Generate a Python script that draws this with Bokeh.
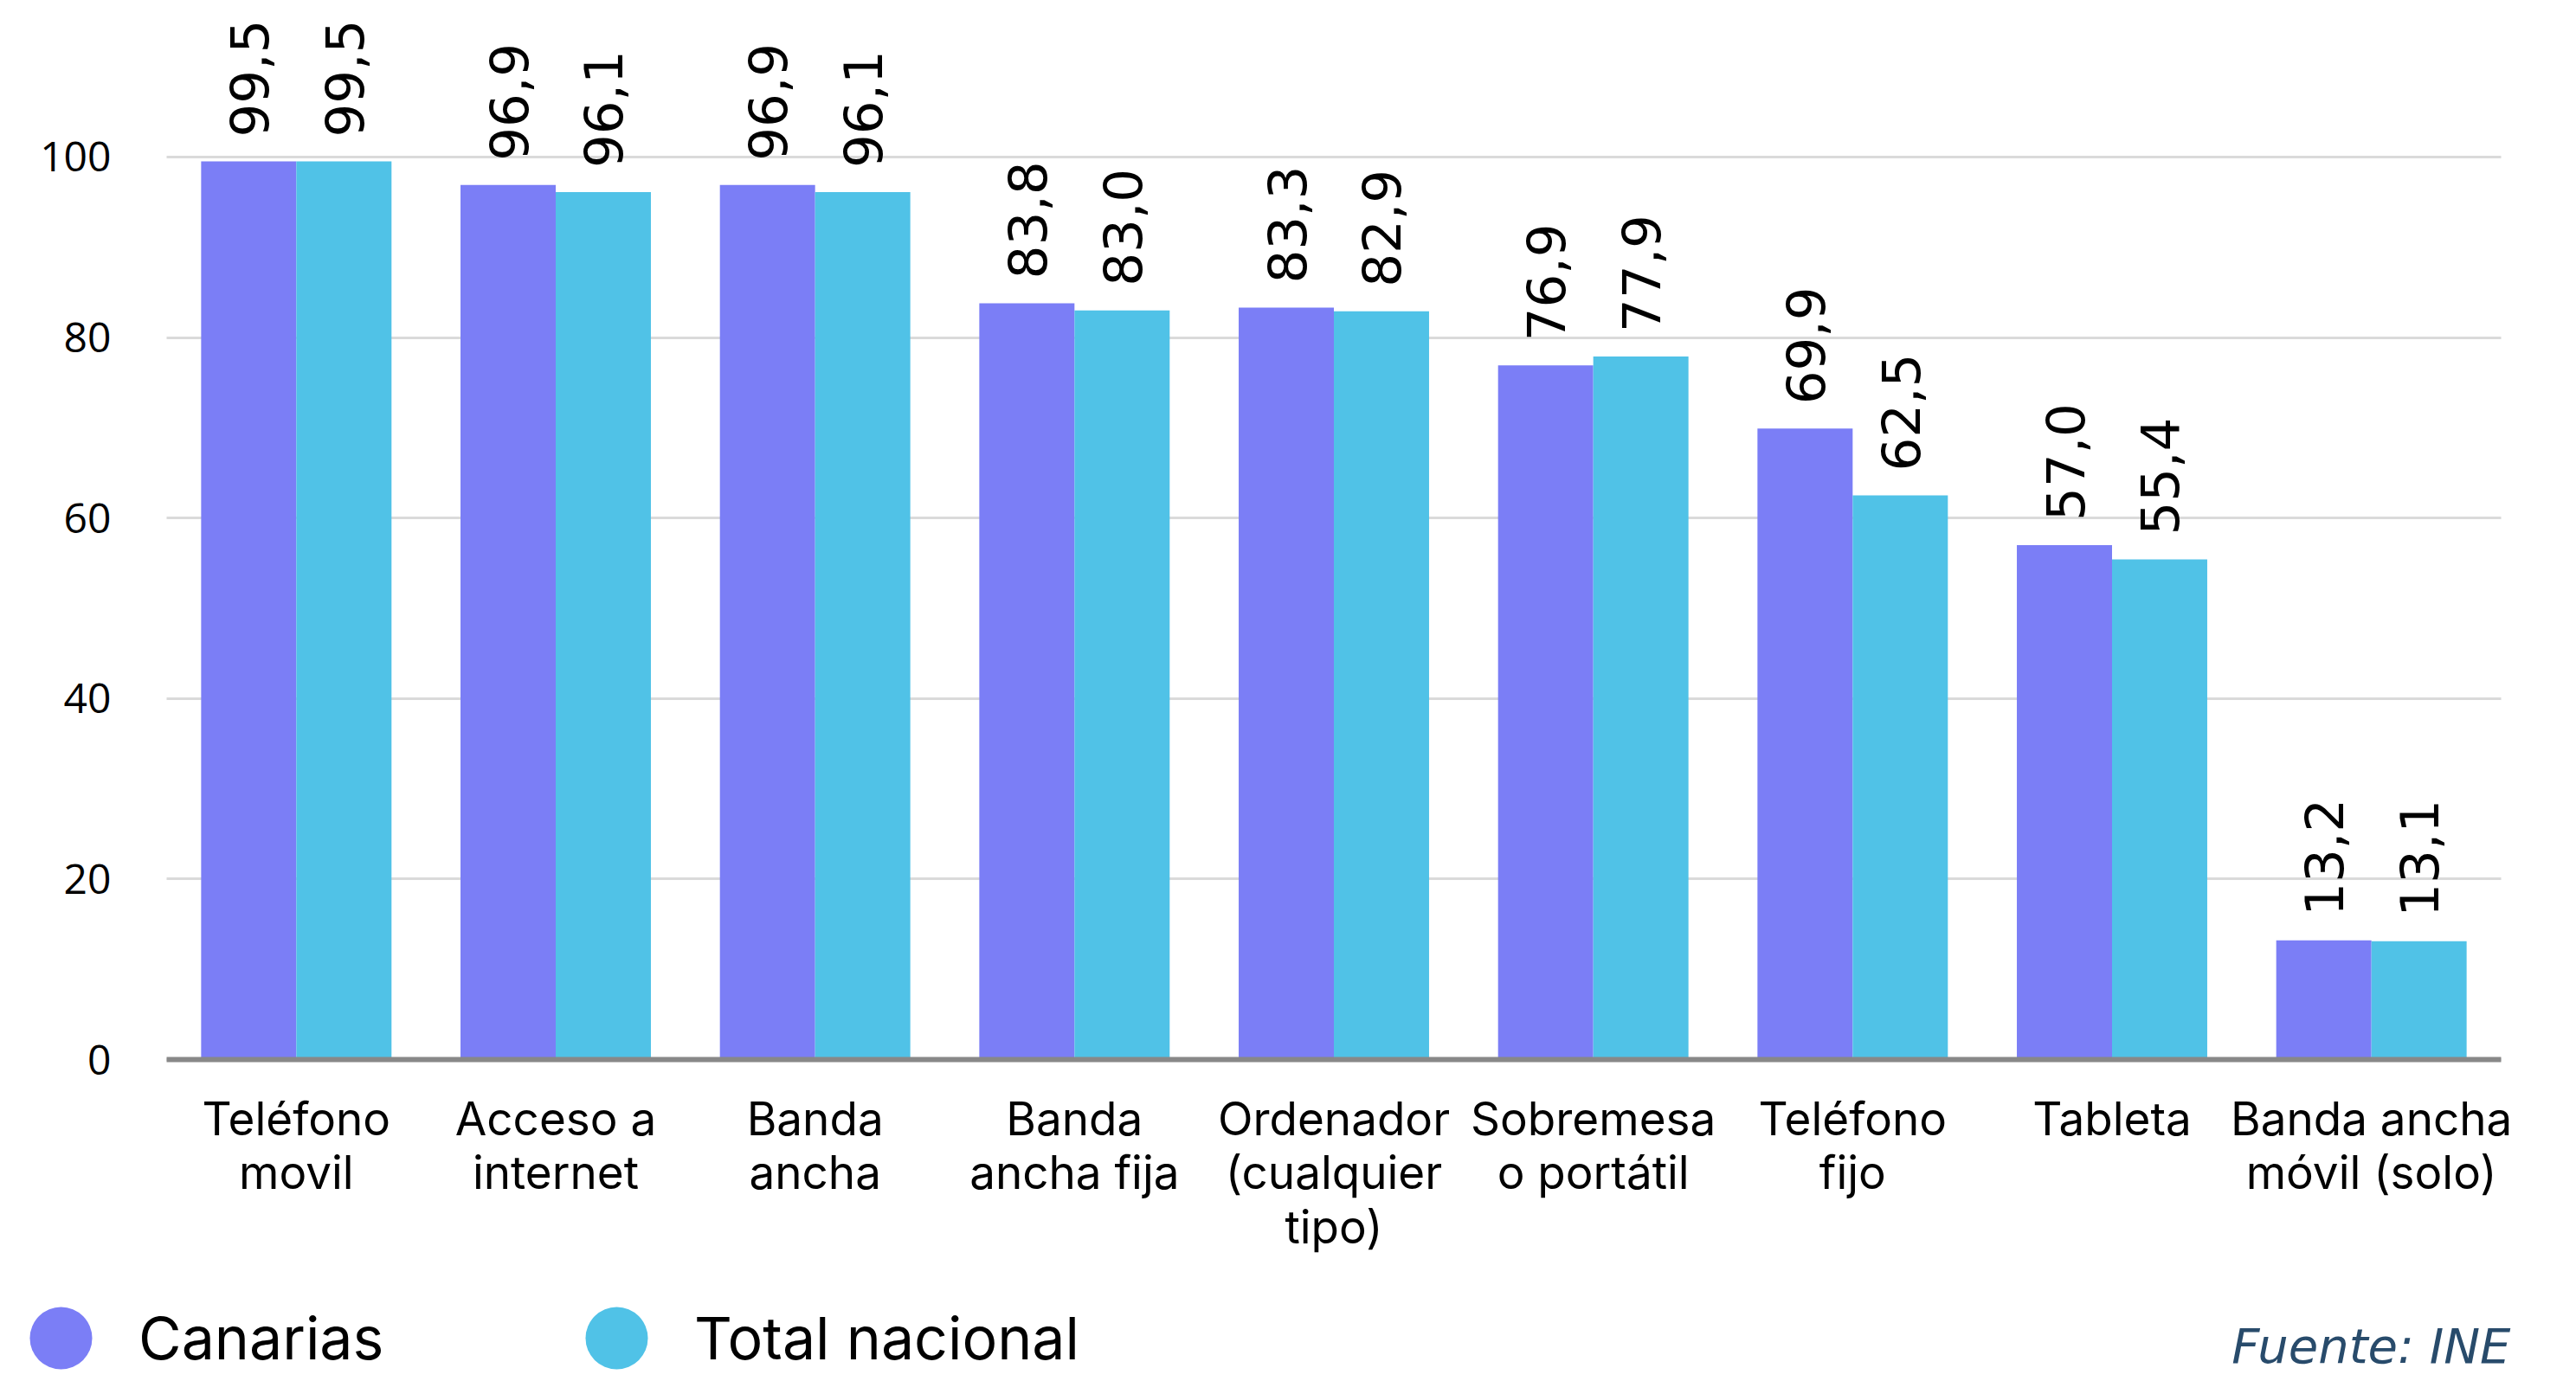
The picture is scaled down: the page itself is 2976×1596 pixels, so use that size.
import math
from bokeh.plotting import figure
from bokeh.models import (Range1d, FixedTicker, ColumnDataSource, Grid,
                          Legend, LegendItem, Label)
from bokeh.core.properties import value
from bokeh.embed import file_html
from bokeh.resources import INLINE

categories = ["Teléfono\nmovil", "Acceso a\ninternet", "Banda\nancha", "Banda\nancha fija",
              "Ordenador\n(cualquier\ntipo)", "Sobremesa\no portátil", "Teléfono\nfijo",
              "Tableta", "Banda ancha\nmóvil (solo)"]
canarias = [99.5, 96.9, 96.9, 83.8, 83.3, 76.9, 69.9, 57.0, 13.2]
total_nacional = [99.5, 96.1, 96.1, 83.0, 82.9, 77.9, 62.5, 55.4, 13.1]
series_names = ["Canarias", "Total nacional"]
y_ticks = [0, 20, 40, 60, 80, 100]
source_note = "Fuente: INE"

C1 = "#7B7EF6"
C2 = "#50C2E7"

def fmt(v):
    return f"{v:.1f}".replace(".", ",")

W, H = 2976, 1596
# plotting area (page pixels) that the categories / values occupy
AL, AR, AT, AB = 192, 2889, 14, 1224
Y_TOP = 116
n = len(categories)
px_x = (AR - AL) / n
px_y = (AB - AT) / Y_TOP

bw = 0.367
off = 0.1835
centers = [i + 0.5 for i in range(n)]

src = ColumnDataSource(dict(
    xc=[c - off for c in centers],
    xt=[c + off for c in centers],
    can=canarias,
    tot=total_nacional,
    can_lbl=[fmt(v) for v in canarias],
    tot_lbl=[fmt(v) for v in total_nacional],
))

x_start = -AL / px_x
y_start = -(H - AB) / px_y
p = figure(x_range=Range1d(x_start, n + (W - AR) / px_x),
           y_range=Range1d(y_start, AB / px_y),
           width=W, height=H, output_backend="svg", toolbar_location=None,
           min_border_left=0, min_border_right=0, min_border_top=0, min_border_bottom=0)
p.outline_line_color = None
p.background_fill_color = "white"
p.border_fill_color = "white"

# grid
p.xgrid.grid_line_color = None
p.ygrid.visible = False
if "cross_bounds" in Grid.properties():
    g = Grid(dimension=1, ticker=FixedTicker(ticks=y_ticks), cross_bounds=(0, n),
             grid_line_color="#DADADA", grid_line_width=3)
    p.add_layout(g)
else:
    p.segment(x0=0, x1=n, y0=y_ticks, y1=y_ticks, line_color="#DADADA", line_width=3)

p.vbar(x="xc", top="can", width=bw, bottom=0, source=src, fill_color=C1, line_color=None)
p.vbar(x="xt", top="tot", width=bw, bottom=0, source=src, fill_color=C2, line_color=None)

for xcol, ycol, tcol in (("xc", "can", "can_lbl"), ("xt", "tot", "tot_lbl")):
    p.text(x=xcol, y=ycol, text=tcol, source=src,
           angle=math.pi / 2, text_align="left", text_baseline="middle",
           y_offset=-28, text_font=value("DejaVu Sans"), text_font_size="61px",
           text_color="black")

# y axis
p.yaxis.fixed_location = 0
p.yaxis.ticker = FixedTicker(ticks=y_ticks)
p.yaxis.axis_line_color = None
p.yaxis.major_tick_line_color = None
p.yaxis.minor_tick_line_color = None
p.yaxis.major_label_standoff = 58
p.yaxis.major_label_text_font = "Open Sans"
p.yaxis.major_label_text_font_size = "48px"
p.yaxis.major_label_text_color = "black"

# x axis (categories)
p.xaxis.fixed_location = 0
p.xaxis.bounds = (0, n)
p.xaxis.ticker = FixedTicker(ticks=centers)
p.xaxis.major_label_overrides = {c: lab for c, lab in zip(centers, categories)}
p.xaxis.axis_line_color = "#888888"
p.xaxis.axis_line_width = 6
p.xaxis.major_tick_line_color = None
p.xaxis.minor_tick_line_color = None
p.xaxis.major_label_standoff = 30
p.xaxis.major_label_text_font = "Inter"
p.xaxis.major_label_text_font_size = "53px"
p.xaxis.major_label_text_line_height = 0.98
p.xaxis.major_label_text_color = "black"
p.xaxis.major_label_orientation = "horizontal"

# legend with circle keys (key renderers sit outside the visible ranges)
key_src = ColumnDataSource(dict(x=[x_start - 5], y=[y_start - 50]))
k1 = p.scatter(x="x", y="y", source=key_src, marker="circle", fill_color=C1, line_color=None)
k2 = p.scatter(x="x", y="y", source=key_src, marker="circle", fill_color=C2, line_color=None)
GW = 180
LEG_CY = 1546
legend = Legend(items=[LegendItem(label=series_names[0], renderers=[k1]),
                       LegendItem(label=series_names[1], renderers=[k2])],
                orientation="horizontal",
                glyph_width=GW, glyph_height=GW,
                label_standoff=0, label_width=462, spacing=0,
                padding=0, margin=0,
                border_line_color=None, background_fill_alpha=0,
                label_text_font="Inter", label_text_font_size="68px",
                label_text_color="black")
legend.location = (70 - GW / 2, H - (LEG_CY + GW / 2))
p.add_layout(legend, "center")

note = Label(x=2900, y=H - 1570 + 15, x_units="screen", y_units="screen",
             text=source_note, text_align="right", text_baseline="alphabetic",
             text_font="DejaVu Sans", text_font_style="italic", text_font_size="56px",
             text_color="#284B6B")
p.add_layout(note)

open("out.html", "w").write(file_html(p, INLINE))
